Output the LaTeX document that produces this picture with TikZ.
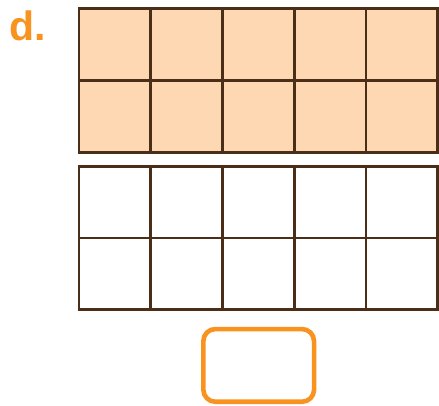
\documentclass[tikz,border=0pt]{standalone}
\usepackage{fontspec}
\setmainfont{Liberation Sans}
\definecolor{gridline}{HTML}{4B2E17}
\definecolor{peach}{HTML}{FDD8B3}
\definecolor{orangeA}{HTML}{F7931E}
\begin{document}
\begin{tikzpicture}[x=1pt,y=-1pt,
  gridstyle/.style={draw=gridline,line width=2.8pt},
  answerbox/.style={draw=orangeA,line width=4.6pt,rounded corners=12pt},
  labelstyle/.style={text=orangeA,font=\bfseries\fontsize{41}{41}\selectfont,inner sep=0pt,anchor=base west}]
\useasboundingbox (0,0) rectangle (439,405);
% top grid (filled)
\fill[peach] (79,8.7) rectangle (437.7,152.2);
\foreach \i in {1,...,4} \draw[gridstyle] (79+71.74*\i,8.7) -- (79+71.74*\i,152.2);
\draw[gridstyle] (79,80.4) -- (437.7,80.4);
\draw[gridstyle] (79,8.7) rectangle (437.7,152.2);
% bottom grid
\foreach \i in {1,...,4} \draw[gridstyle] (79+71.74*\i,166.7) -- (79+71.74*\i,309.3);
\draw[gridstyle] (79,238) -- (437.7,238);
\draw[gridstyle] (79,166.7) rectangle (437.7,309.3);
% answer box
\node[answerbox,minimum width=110.7pt,minimum height=72.7pt,inner sep=0pt] (ans) at (258.7,365.4) {};
% label
\node[labelstyle] (lbl) at (9,40.7) {d.};
\end{tikzpicture}
\end{document}
